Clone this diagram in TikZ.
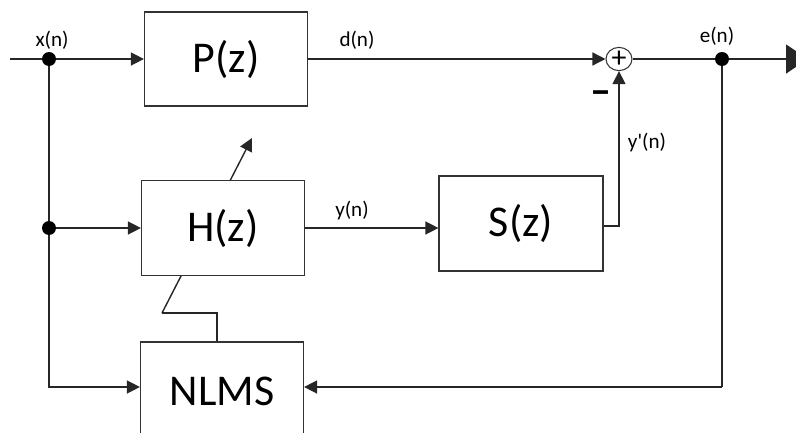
\documentclass[tikz,border=0pt]{standalone}
\usepackage{fontspec}
\setmainfont{Carlito}
\usetikzlibrary{arrows.meta,positioning,shapes.geometric,backgrounds}

\begin{document}
\begin{tikzpicture}[x=0.02cm,y=-0.02cm,font=\fontsize{12}{14}\selectfont]
        \tikzset{
            filterblock/.style={
                draw=black!80,
                fill=white,
                line width=0.7pt,
                minimum width=3.26cm,
                minimum height=1.88cm,
                font=\fontsize{25}{30}\selectfont
            },
            filterjoin/.style={
                circle,
                fill=black,
                inner sep=0pt,
                minimum size=0.28cm
            },
            filtersum/.style={
                ellipse,
                draw=black!80,
                fill=white,
                line width=0.6pt,
                inner sep=0pt,
                minimum width=0.52cm,
                minimum height=0.38cm,
                font=\fontsize{17}{17}\selectfont
            },
            filterwire/.style={
                draw=black!85,
                line width=0.8pt
            },
            filtersignal/.style={
                filterwire,
                -{Triangle[length=0.26cm,width=0.26cm]}
            }
        }
        \clip (0,0) rectangle (796,433);

        \node[filterblock] (primary) at (226,59) {P(z)};
        \node[filterblock,minimum height=1.9cm] (adaptive) at (223,228) {H(z)};
        \node[filterblock,minimum width=3.28cm,minimum height=1.9cm] (secondary) at (521,223.5) {S(z)};
        \node[filterblock,minimum height=1.96cm] (nlms) at (222,391) {NLMS};
        \node[filtersum] (sum) at (619,59) {+};

        \node[filterjoin] (xsplit) at (49,59) {};
        \node[filterjoin] (xtap) at (49,228) {};
        \node[filterjoin] (esplit) at (722,59) {};

        \coordinate (xin) at (10,59);
        \coordinate (eout) at (808,59);
        \coordinate (xlow) at (49,387);
        \coordinate (elow) at (722,387);
        \coordinate (sturn) at (619,226);
        \coordinate (nlmsup) at (217,313);
        \coordinate (tapbend) at (162,313);
        \coordinate (tiptop) at (252,138);

        % reference input and primary path
        \draw[filterwire] (xin) -- (xsplit);
        \draw[filtersignal] (xsplit) -- (primary.west);
        \draw[filtersignal] (primary.east) -- (sum.west);
        \draw[filterwire] (sum.east) -- (esplit);
        \draw[filterwire,-{Triangle[length=0.44cm,width=0.58cm]}] (esplit) -- (eout);

        % adaptive branch
        \draw[filterwire] (xsplit) -- (xtap);
        \draw[filtersignal] (xtap) -- (adaptive.west);
        \draw[filtersignal] (xtap) -- (xlow) -- (xlow -| nlms.west);
        \draw[filtersignal] (adaptive.east) -- (adaptive.east -| secondary.west);
        \draw[filtersignal] (secondary.east |- sturn) -- (sturn) -- (sum.south);

        % error feedback
        \draw[filterwire] (esplit) -- (elow);
        \draw[filtersignal] (elow) -- (elow -| nlms.east);

        % weight update
        \draw[filterwire] (nlmsup |- nlms.north) -- (nlmsup) -- (tapbend);
        \begin{scope}[on background layer]
            \draw[filtersignal] (tapbend) -- (tiptop);
        \end{scope}

        \node (xlabel) at (52,40) {x(n)};
        \node (dlabel) at (357,40) {d(n)};
        \node (elabel) at (717,36) {e(n)};
        \node (ylabel) at (352,210) {y(n)};
        \node (yslabel) at (647,142) {y\textquotesingle(n)};
        \node[font=\fontsize{24}{24}\selectfont\bfseries] (minus) at (601,98) {–};
\end{tikzpicture}
\end{document}
